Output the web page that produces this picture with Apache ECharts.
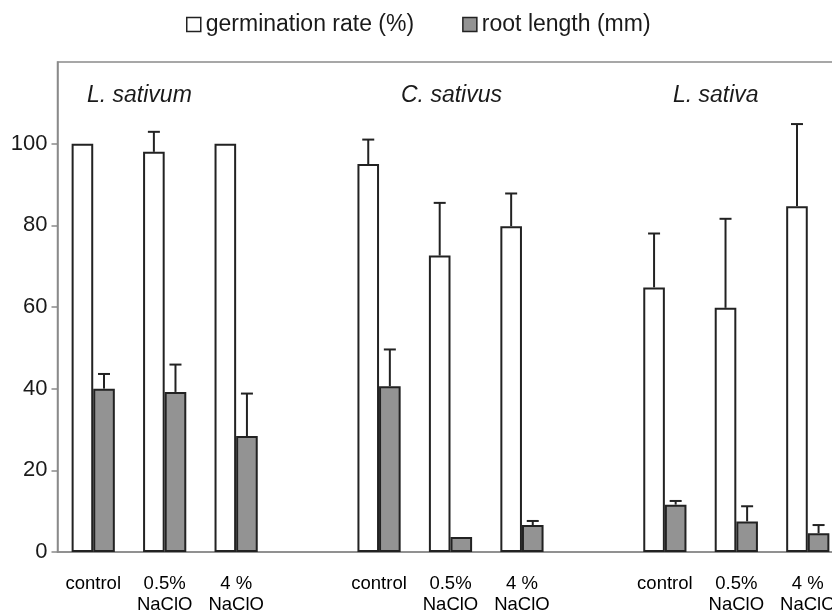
<!DOCTYPE html>
<html>
<head>
<meta charset="utf-8">
<title>germination and root length</title>
<script src="https://cdn.jsdelivr.net/npm/echarts@6/dist/echarts.min.js"></script>
<style>
  html, body { margin: 0; padding: 0; background: #fff; overflow: hidden; }
  /* the original figure is cut off on the right, so the chart is drawn wider than the page */
  #main { width: 860px; height: 615px; }
</style>
</head>
<body>
<div id="main"></div>
<script>
// values, one entry per category slot ('' = gap between species)
const categories = ['control', '0.5%\nNaClO', '4 %\nNaClO', '', 'control', '0.5%\nNaClO', '4 %\nNaClO', '', 'control', '0.5%\nNaClO', '4 %\nNaClO']
const germinationRate = [100, 98, 100, '-', 95, 72.6, 79.8, '-', 64.8, 59.8, 84.7]
const germinationErr = [0, 4.9, 0, 0, 6, 12.9, 8, 0, 13.2, 21.8, 20.1]
const rootLength = [40, 39.2, 28.4, '-', 40.6, 3.7, 6.6, '-', 11.6, 7.5, 4.6]
const rootErr = [3.6, 6.7, 10.4, 0, 9, 0, 1, 0, 0.9, 3.7, 2]
const yTicks = [0, 20, 40, 60, 80, 100]
const species = ['L. sativum', 'C. sativus', 'L. sativa']

const barW = 21.6
const fontName = '"Liberation Sans", Arial, sans-serif'

function errorData (values, errs) {
  return values.map((v, i) => [i, v === '-' ? 0 : v, errs[i]])
}

// draws only the upper half of the error bar, like the original
function errorBar (offset) {
  return function (params, api) {
    const err = api.value(2)
    if (!err) return
    const base = api.coord([api.value(0), api.value(1)])
    const top = api.coord([api.value(0), api.value(1) + err])
    const x = base[0] + offset
    const style = { stroke: '#222', lineWidth: 2 }
    return {
      type: 'group',
      children: [
        { type: 'line', shape: { x1: x, y1: base[1], x2: x, y2: top[1] }, style: style },
        { type: 'line', shape: { x1: x - 6, y1: top[1], x2: x + 6, y2: top[1] }, style: style }
      ]
    }
  }
}

const chart = echarts.init(document.getElementById('main'))

chart.setOption({
  animation: false,
  textStyle: { fontFamily: fontName },
  legend: {
    left: 181,
    top: 8,
    itemWidth: 14,
    itemHeight: 14,
    itemGap: 48,
    icon: 'rect',
    textStyle: { fontSize: 23, color: '#1a1a1a', fontFamily: fontName },
    data: [
      { name: 'germination rate (%)', itemStyle: { color: '#fff', borderColor: '#222', borderWidth: 1.5 } },
      { name: 'root length (mm)', itemStyle: { color: '#939393', borderColor: '#222', borderWidth: 1.5 } }
    ]
  },
  grid: {
    show: true,
    left: 57.5,
    top: 62,
    width: 786,
    height: 491,
    borderColor: '#8a8a8a',
    borderWidth: 1.5,
    containLabel: false
  },
  graphic: species.map((name, i) => ({
    type: 'text',
    left: [87, 401, 673][i],
    top: 84,
    style: { text: name, font: 'italic 23px ' + fontName, fill: '#1a1a1a' }
  })),
  xAxis: {
    type: 'category',
    data: categories,
    axisLine: { lineStyle: { color: '#8a8a8a', width: 1.5 } },
    axisTick: { show: false },
    axisLabel: {
      interval: 0,
      margin: 21,
      fontSize: 18.5,
      lineHeight: 21,
      color: '#000'
    }
  },
  yAxis: {
    type: 'value',
    min: 0,
    max: 120,
    interval: 20,
    splitLine: { show: false },
    axisLine: { show: true, lineStyle: { color: '#8a8a8a', width: 1.5 } },
    axisTick: { show: true, length: 6, customValues: yTicks, lineStyle: { color: '#8a8a8a', width: 1.5 } },
    axisLabel: { customValues: yTicks, fontSize: 22, color: '#1a1a1a', margin: 10 }
  },
  series: [
    {
      name: 'germination rate (%)',
      type: 'bar',
      barWidth: barW,
      barGap: '0%',
      itemStyle: { color: '#fff', borderColor: '#222', borderWidth: 2 },
      data: germinationRate
    },
    {
      name: 'root length (mm)',
      type: 'bar',
      barWidth: barW,
      itemStyle: { color: '#939393', borderColor: '#222', borderWidth: 2 },
      data: rootLength
    },
    {
      type: 'custom',
      renderItem: errorBar(-barW / 2),
      encode: { x: 0, y: 1 },
      z: 5,
      data: errorData(germinationRate, germinationErr)
    },
    {
      type: 'custom',
      renderItem: errorBar(barW / 2),
      encode: { x: 0, y: 1 },
      z: 5,
      data: errorData(rootLength, rootErr)
    }
  ]
})
</script>
</body>
</html>
